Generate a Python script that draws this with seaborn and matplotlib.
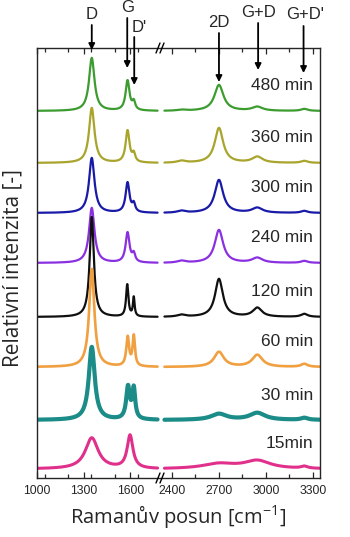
import numpy as np, pandas as pd
import matplotlib; matplotlib.use("Agg")
import matplotlib.pyplot as plt
import seaborn as sns
from matplotlib.ticker import MultipleLocator

# ---- data ----
times = ['15min', '30 min', '60 min', '120 min', '240 min', '300 min', '360 min', '480 min']
colors = ['#e0308c', '#1c8c88', '#f0a040', '#101010', '#8a30e0', '#1a1aa8', '#a8a42c', '#3c9c30']
offset = [9, 58, 111, 161, 215, 265, 315, 367]          # baseline of each trace
line_w = [2.2, 3.0, 1.9, 1.6, 1.6, 1.6, 1.6, 1.6]       # thicker = noisier trace

# band centres [cm-1]
band_names = ['D', 'G', "D'", 'D+D"', '2D', 'G+D', "G+D'"]
G_pos = [1598, 1585, 1583, 1580, 1582, 1582, 1582, 1582]
band_pos = [1352, None, 1622, 2460, 2700, 2945, 3245]
# heights / FWHM per spectrum
D_h = [31, 73, 98, 100, 55, 55, 55, 53]
D_w = [100, 46, 40, 32, 42, 42, 42, 42]
G_h = [33, 32, 29, 32, 30, 30, 32, 30]
G_w = [45, 28, 22, 18, 30, 30, 30, 30]
Dp_h = [0, 30, 30, 19, 8, 8, 8, 8]
Dp_w = [20, 22, 18, 13, 22, 22, 22, 22]
DD_h = [0, 0, 0, 2, 2, 2, 2, 1]
D2_h = [5, 6, 15, 38, 33, 33, 35, 26]
D2_w = [250, 120, 75, 60, 65, 65, 65, 70]
GD_h = [8, 7, 12, 9, 5, 5, 6, 4]
GD_w = [200, 120, 80, 70, 80, 80, 80, 80]
GDp_h = [2, 2, 3, 3, 2, 2, 2, 2]

# arrows: (label, x, label y, arrow start y, arrow tip y, label x)
arrows_left = [('D', 1352, 463, 453, 428, 1352), ('G', 1580, 470, 460, 410, 1580),
               ("D'", 1625, 450, 441, 393, 1656)]
arrows_right = [('2D', 2700, 455, 445, 396, 2700), ('G+D', 2950, 465, 455, 408, 2950),
                ("G+D'", 3240, 463, 452, 405, 3251)]


def lor(x, c, h, w):
    return h / (1 + ((x - c) / (w / 2)) ** 2)


x_left = np.linspace(1000, 1775, 800)
x_right = np.linspace(2352, 3345, 900)
rows = []
for i, t in enumerate(times):
    yl = (lor(x_left, band_pos[0], D_h[i], D_w[i]) + lor(x_left, G_pos[i], G_h[i], G_w[i])
          + lor(x_left, band_pos[2], Dp_h[i], Dp_w[i]) + offset[i])
    yr = (lor(x_right, band_pos[3], DD_h[i], 60) + lor(x_right, band_pos[4], D2_h[i], D2_w[i])
          + lor(x_right, band_pos[5], GD_h[i], GD_w[i]) + lor(x_right, band_pos[6], GDp_h[i], 50)
          + offset[i])
    rows.append(pd.DataFrame({'shift': x_left, 'I': yl, 'time': t, 'part': 'L'}))
    rows.append(pd.DataFrame({'shift': x_right, 'I': yr, 'time': t, 'part': 'R'}))
df = pd.concat(rows, ignore_index=True)

sns.set_style("ticks")
plt.rcParams['font.family'] = ['Liberation Sans', 'DejaVu Sans']

fig = plt.figure(figsize=(3.5, 5.37), dpi=100)
W, H = 350, 537
bot, top = 478, 48
ax1 = fig.add_axes([37 / W, (H - bot) / H, (161 - 37) / W, (bot - top) / H])
ax2 = fig.add_axes([161 / W, (H - bot) / H, (320 - 161) / W, (bot - top) / H])

for i in range(len(times) - 1, -1, -1):
    t = times[i]
    for ax, part in ((ax1, 'L'), (ax2, 'R')):
        sub = df[(df.time == t) & (df.part == part)]
        sns.lineplot(data=sub, x='shift', y='I', ax=ax, color=colors[i], lw=line_w[i],
                     estimator=None, sort=False, legend=False)
    ax2.text(3300, offset[i] + 25, t, ha='right', va='center', fontsize=12.5)

ax1.set_xlim(1000, 1797)
ax2.set_xlim(2330, 3345)
for ax in (ax1, ax2):
    ax.set_ylim(0, 430)
    ax.set_yticks([])
    ax.set_xlabel(''); ax.set_ylabel('')
    ax.xaxis.set_major_locator(MultipleLocator(300))
    ax.xaxis.set_minor_locator(MultipleLocator(150))
    ax.tick_params(axis='x', which='both', direction='in', top=True, bottom=True,
                   labelsize=8.8, pad=5, width=0.9)
    ax.tick_params(axis='x', which='major', length=4)
    ax.tick_params(axis='x', which='minor', length=3)
    for s in ax.spines.values():
        s.set_linewidth(1.0)
ax1.spines['right'].set_visible(False)
ax2.spines['left'].set_visible(False)
ax2.set_xticks([2400, 2700, 3000, 3300])
ax1.set_xticks([1000, 1300, 1600])

# peak markers
for ax, arr in ((ax1, arrows_left), (ax2, arrows_right)):
    for lab, x, ly, y0, y1, lx in arr:
        ax.annotate('', xy=(x, y1), xytext=(x, y0), annotation_clip=False,
                    arrowprops=dict(arrowstyle='-|>', color='black', lw=1.3,
                                    mutation_scale=9, shrinkA=0, shrinkB=0))
        ax.text(lx, ly, lab, ha='center', va='center', fontsize=12, clip_on=False)

# axis-break marks
for yb in (top, bot):
    for dx in (-3, 1):
        xc = 161 + dx
        fig.add_artist(plt.Line2D([(xc - 2) / W, (xc + 2) / W],
                                  [(H - yb - 5) / H, (H - yb + 5) / H],
                                  color='black', lw=1.0))

lab_font = ['Open Sans', 'DejaVu Sans']
fig.text(178 / W, 1 - 516 / H, 'Ramanův posun [cm$^{\\mathregular{-1}}$]', ha='center',
         va='center', fontsize=14.5, family=lab_font)
fig.text(13 / W, 1 - 268 / H, 'Relativní intenzita [-]', ha='center', va='center',
         rotation=90, fontsize=15, family=lab_font)

fig.savefig('out.png', dpi=100)
